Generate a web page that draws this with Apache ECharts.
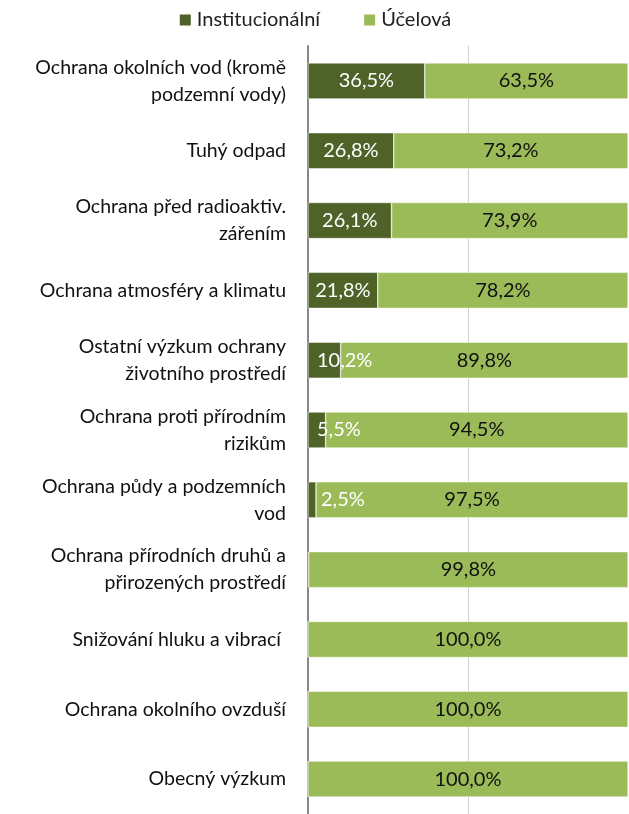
<!DOCTYPE html>
<html>
<head>
<meta charset="utf-8">
<script src="https://cdn.jsdelivr.net/npm/echarts@6/dist/echarts.min.js"></script>
<style>
  html, body { margin: 0; padding: 0; background: #fff; }
  #chart { width: 629px; height: 814px; }
</style>
</head>
<body>
<div id="chart"></div>
<script>
const categories = [
  'Ochrana okolních vod (kromě\npodzemní vody)',
  'Tuhý odpad',
  'Ochrana před radioaktiv.\nzářením',
  'Ochrana atmosféry a klimatu',
  'Ostatní výzkum ochrany\nživotního prostředí',
  'Ochrana proti přírodním\nrizikům',
  'Ochrana půdy a podzemních\nvod',
  'Ochrana přírodních druhů a\npřirozených prostředí',
  'Snižování hluku a vibrací ',
  'Ochrana okolního ovzduší',
  'Obecný výzkum'
]
const institucionalni = [36.5, 26.8, 26.1, 21.8, 10.2, 5.5, 2.5, 0.2, 0, 0, 0]
const ucelova = [63.5, 73.2, 73.9, 78.2, 89.8, 94.5, 97.5, 99.8, 100, 100, 100]

const fmt = v => v.toFixed(1).replace('.', ',') + '%'
const font = 'Lato, "Open Sans", sans-serif'

let chart = echarts.init(document.getElementById('chart'))
chart.setOption({
  animation: false,
  textStyle: { fontFamily: font },
  legend: {
    top: 5,
    left: 'center',
    itemWidth: 13,
    itemHeight: 13,
    itemGap: 42,
    icon: 'rect',
    textStyle: { fontSize: 20, color: '#222', fontFamily: font },
    data: ['Institucionální', 'Účelová']
  },
  grid: {
    top: 46,
    bottom: -4,
    left: 308,
    right: 1
  },
  xAxis: {
    type: 'value',
    min: 0,
    max: 100,
    interval: 50,
    axisLabel: { show: false },
    axisLine: { show: false },
    axisTick: { show: false },
    splitLine: { showMaxLine: false, lineStyle: { color: '#d0d0d0', width: 1 } }
  },
  yAxis: {
    type: 'category',
    inverse: true,
    data: categories,
    axisTick: { show: false },
    axisLine: { lineStyle: { color: '#888', width: 2 } },
    axisLabel: {
      fontSize: 19.5,
      color: '#111',
      lineHeight: 27,
      margin: 22,
      align: 'right',
      fontFamily: font
    }
  },
  series: [
    {
      name: 'Institucionální',
      type: 'bar',
      stack: 'a',
      barWidth: 36,
      itemStyle: { color: '#4f6228', borderColor: '#fff', borderWidth: 0.5 },
      data: institucionalni.map(v => ({
        value: v,
        label: v >= 15
          ? { show: true, position: 'inside' }
          : v >= 1
            ? { show: true, position: 'insideLeft', distance: v < 4 ? 13 : 9 }
            : { show: false }
      })),
      label: {
        color: '#fff',
        fontSize: 20,
        fontFamily: font,
        formatter: p => fmt(p.value)
      }
    },
    {
      name: 'Účelová',
      type: 'bar',
      stack: 'a',
      barWidth: 36,
      itemStyle: { color: '#9bbb59', borderColor: '#fff', borderWidth: 0.5 },
      data: ucelova,
      label: {
        show: true,
        position: 'inside',
        color: '#111',
        fontSize: 20,
        fontFamily: font,
        formatter: p => fmt(p.value)
      }
    }
  ]
})
</script>
</body>
</html>
